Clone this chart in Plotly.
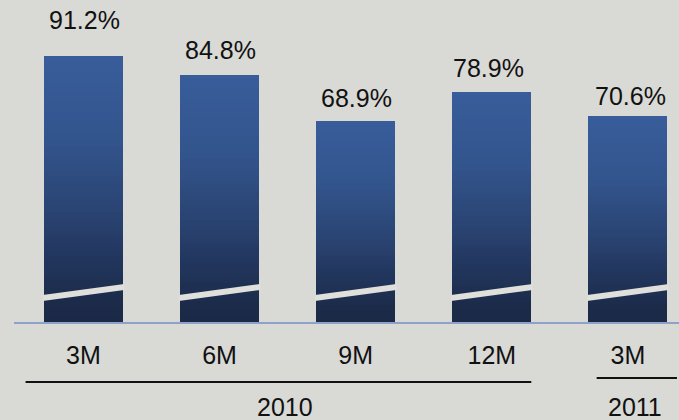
import plotly.graph_objects as go

# ---- data ----
categories = ["3M", "6M", "9M", "12M", "3M"]
values = [91.2, 84.8, 68.9, 78.9, 70.6]
value_labels = ["91.2%", "84.8%", "68.9%", "78.9%", "70.6%"]
groups = ["2010", "2011"]

# ---- style ----
BG = "#d9d9d5"
FONT = "Liberation Sans, Arial, sans-serif"
W, H = 679, 420
ML, MR, MT, MB = 14, 0, 0, 98
PLOT_H = H - MT - MB
BAR_W = 0.58
label_dy = [20, 9, 7, 8, 4]
label_dx = [1, 1, 1, -3, 3]

grad_stops = [(0.0, (0x38, 0x5d, 0x9a)), (0.3, (0x33, 0x55, 0x8e)),
              (0.55, (0x2b, 0x46, 0x76)), (0.78, (0x21, 0x35, 0x5b)),
              (0.92, (0x1c, 0x2b, 0x4a)), (1.0, (0x1b, 0x29, 0x46))]


def grad(f):
    for (a, ca), (b, cb) in zip(grad_stops[:-1], grad_stops[1:]):
        if a <= f <= b:
            t = (f - a) / (b - a) if b > a else 0
            c = [round(ca[i] + (cb[i] - ca[i]) * t) for i in range(3)]
            return "rgb(%d,%d,%d)" % tuple(c)
    return "rgb(%d,%d,%d)" % grad_stops[-1][1]


def paper_y(px):
    return (H - MB - px) / PLOT_H


xpos = list(range(len(categories)))
fig = go.Figure()

K = 70
for k in range(K):
    frac = k / K
    fig.add_trace(go.Bar(
        x=xpos, y=[v * (1 - frac) for v in values], width=BAR_W,
        marker=dict(color=grad(frac + 0.5 / K), line=dict(width=0)),
        hoverinfo="skip", showlegend=False))

# value labels
for i, (v, t) in enumerate(zip(values, value_labels)):
    fig.add_annotation(x=xpos[i], y=v, text=t, showarrow=False, yanchor="bottom",
                       yshift=label_dy[i], xshift=label_dx[i],
                       font=dict(size=25, color="#111111", family=FONT))

# axis-break marks (decorative), in data units
Y_MAX = 110.4
px_per_unit = PLOT_H / Y_MAX
b_lo = (H - MB - 301) / px_per_unit
b_th = 6 / px_per_unit
b_rise = 11 / px_per_unit
for i in xpos:
    x0, x1 = i - BAR_W / 2 - 0.01, i + BAR_W / 2 + 0.01
    path = (f"M {x0},{b_lo} L {x1},{b_lo + b_rise} L {x1},{b_lo + b_rise + b_th} "
            f"L {x0},{b_lo + b_th} Z")
    fig.add_shape(type="path", path=path, xref="x", yref="y",
                  fillcolor="#dfdfdb", line=dict(width=0), layer="above")

# group brackets
fig.add_shape(type="line", xref="x", yref="paper", x0=-0.425, x1=3.29,
              y0=paper_y(382), y1=paper_y(382), line=dict(color="#111111", width=2))
fig.add_shape(type="line", xref="x", yref="paper", x0=3.77, x1=4.36,
              y0=paper_y(378), y1=paper_y(378), line=dict(color="#111111", width=2))
fig.add_annotation(x=1.48, xref="x", y=paper_y(407), yref="paper", text=groups[0],
                   showarrow=False, yanchor="middle",
                   font=dict(size=25, color="#111111", family=FONT))
fig.add_annotation(x=4.05, xref="x", y=paper_y(407), yref="paper", text=groups[1],
                   showarrow=False, yanchor="middle",
                   font=dict(size=25, color="#111111", family=FONT))

fig.update_layout(
    width=W, height=H, margin=dict(l=ML, r=MR, t=MT, b=MB),
    paper_bgcolor=BG, plot_bgcolor=BG, barmode="overlay", bargap=0,
    showlegend=False,
    xaxis=dict(range=[-0.51, 4.375], tickvals=xpos, ticktext=categories,
               showgrid=False, zeroline=False, showline=True,
               linecolor="#8da2c9", linewidth=2, ticks="",
               ticklabelstandoff=10,
               tickfont=dict(size=25, color="#111111", family=FONT)),
    yaxis=dict(range=[0, Y_MAX], visible=False, showgrid=False, zeroline=False),
)

fig.write_html("out.html", config={"displayModeBar": False},
               post_script="document.body.style.margin='0';"
                           "document.body.style.overflow='hidden';")
